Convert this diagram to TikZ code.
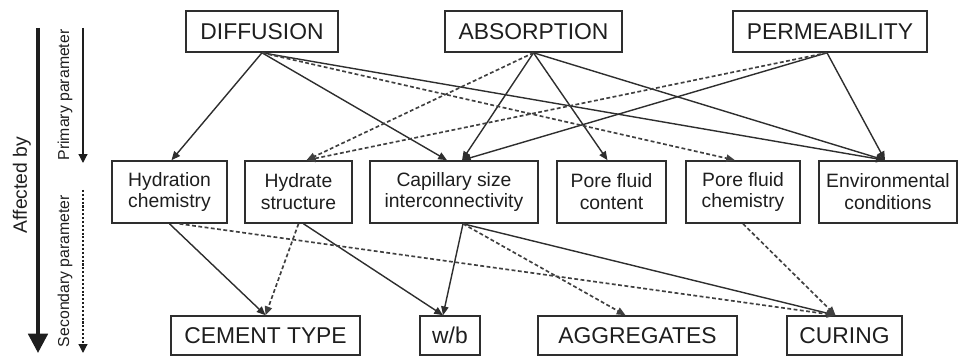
\documentclass[tikz,border=0pt]{standalone}
\usepackage{fontspec}
\setmainfont{Liberation Sans}
\usetikzlibrary{arrows.meta,calc}
\definecolor{cpInk}{HTML}{1E1E1E}
\definecolor{cpLine}{HTML}{2E2E2E}
\definecolor{cpDash}{HTML}{404040}
\tikzset{
  cpArrow/.style={-{Triangle[length=5pt,width=4.2pt]},line width=0.8pt,draw=cpLine},
  cpSecond/.style={cpArrow,draw=cpDash,line width=0.95pt,dash pattern=on 2.2pt off 1.4pt},
  cpTop/.style={draw=cpLine,line width=0.9pt,inner sep=0pt,minimum height=8.2mm,
    font=\fontsize{13}{15}\selectfont,text=cpInk},
  cpMid/.style={cpTop,minimum height=12.4mm,align=center,
    font=\fontsize{11}{12.5}\selectfont},
  cpBot/.style={cpTop,minimum height=7.8mm},
  cpSide/.style={font=\fontsize{9}{10}\selectfont,text=cpInk,rotate=90,inner sep=0pt}
}
\begin{document}
\begin{tikzpicture}[x=0.2mm,y=-0.2mm]
\path[use as bounding box] (0,0) rectangle (960,356);
% primary parameters
\node[cpTop,minimum width=30.4mm] (diff) at (262,31.5) {DIFFUSION};
\node[cpTop,minimum width=35.4mm] (abs) at (533.5,31.5) {ABSORPTION};
\node[cpTop,minimum width=38.8mm] (perm) at (830,31.5) {PERMEABILITY};
% properties of the paste
\node[cpMid,minimum width=23mm] (hydChem) at (169.5,192) {Hydration\\chemistry};
\node[cpMid,minimum width=21.4mm] (hydStr) at (298.5,192) {Hydrate\\structure};
\node[cpMid,minimum width=33.6mm] (cap) at (454,192) {Capillary size\\interconnectivity};
\node[cpMid,minimum width=21.8mm] (poreCont) at (611.5,192) {Pore fluid\\content};
\node[cpMid,minimum width=22.8mm] (poreChem) at (743,192) {Pore fluid\\chemistry};
\node[cpMid,minimum width=27.6mm] (env) at (888,192) {Environmental\\conditions};
% secondary parameters
\node[cpBot,minimum width=37.8mm] (cement) at (265.5,335.5) {CEMENT TYPE};
\node[cpBot,minimum width=12mm] (wb) at (450,335.5) {w/b};
\node[cpBot,minimum width=39.8mm] (aggr) at (637.5,335.5) {AGGREGATES};
\node[cpBot,minimum width=23mm] (curing) at (844.5,335.5) {CURING};
% legend on the left
\coordinate (affTop) at (38,28);
\coordinate (affEnd) at (38,353);
\coordinate (primTop) at (83,28);
\coordinate (primEnd) at (83,163);
\coordinate (secTop) at (83,190);
\coordinate (secEnd) at (83,353);
\draw[-{Triangle[length=11pt,width=11pt]},line width=2.2pt,draw=cpInk] (affTop) -- (affEnd);
\draw[-{Triangle[length=5pt,width=5pt]},line width=0.7pt,draw=cpInk] (primTop) -- (primEnd);
\draw[-{Triangle[length=5pt,width=5pt]},line width=0.7pt,draw=cpInk,
  dash pattern=on 1.2pt off 1pt] (secTop) -- (secEnd);
\node[cpSide,font=\fontsize{11}{12}\selectfont] (affLbl) at (22,185) {Affected by};
\node[cpSide] (primLbl) at (65,95) {Primary parameter};
\node[cpSide] (secLbl) at (65,271) {Secondary parameter};
% primary links
\foreach \from/\sx/\to/\tx in {diff/0/hydChem/2,diff/0/cap/-7,diff/0/env/-3,
    abs/0/cap/8,abs/0/poreCont/-4,abs/0/env/-3,perm/-3/cap/8,perm/-3/env/-3,
    hydChem/0/cement/0,hydStr/5/wb/-7,cap/9/wb/-7,cap/9/curing/-9}
  \draw[cpArrow] ($(\from.south)+(\sx,0)$) -- ($(\to.north)+(\tx,0)$);
% secondary links
\foreach \from/\sx/\to/\tx in {diff/0/poreChem/-8,abs/0/hydStr/8,perm/-3/hydStr/8,
    hydChem/10/curing/-9,hydStr/0/cement/0,cap/9/aggr/-12,poreChem/0/curing/-9}
  \draw[cpSecond] ($(\from.south)+(\sx,0)$) -- ($(\to.north)+(\tx,0)$);
\end{tikzpicture}
\end{document}
